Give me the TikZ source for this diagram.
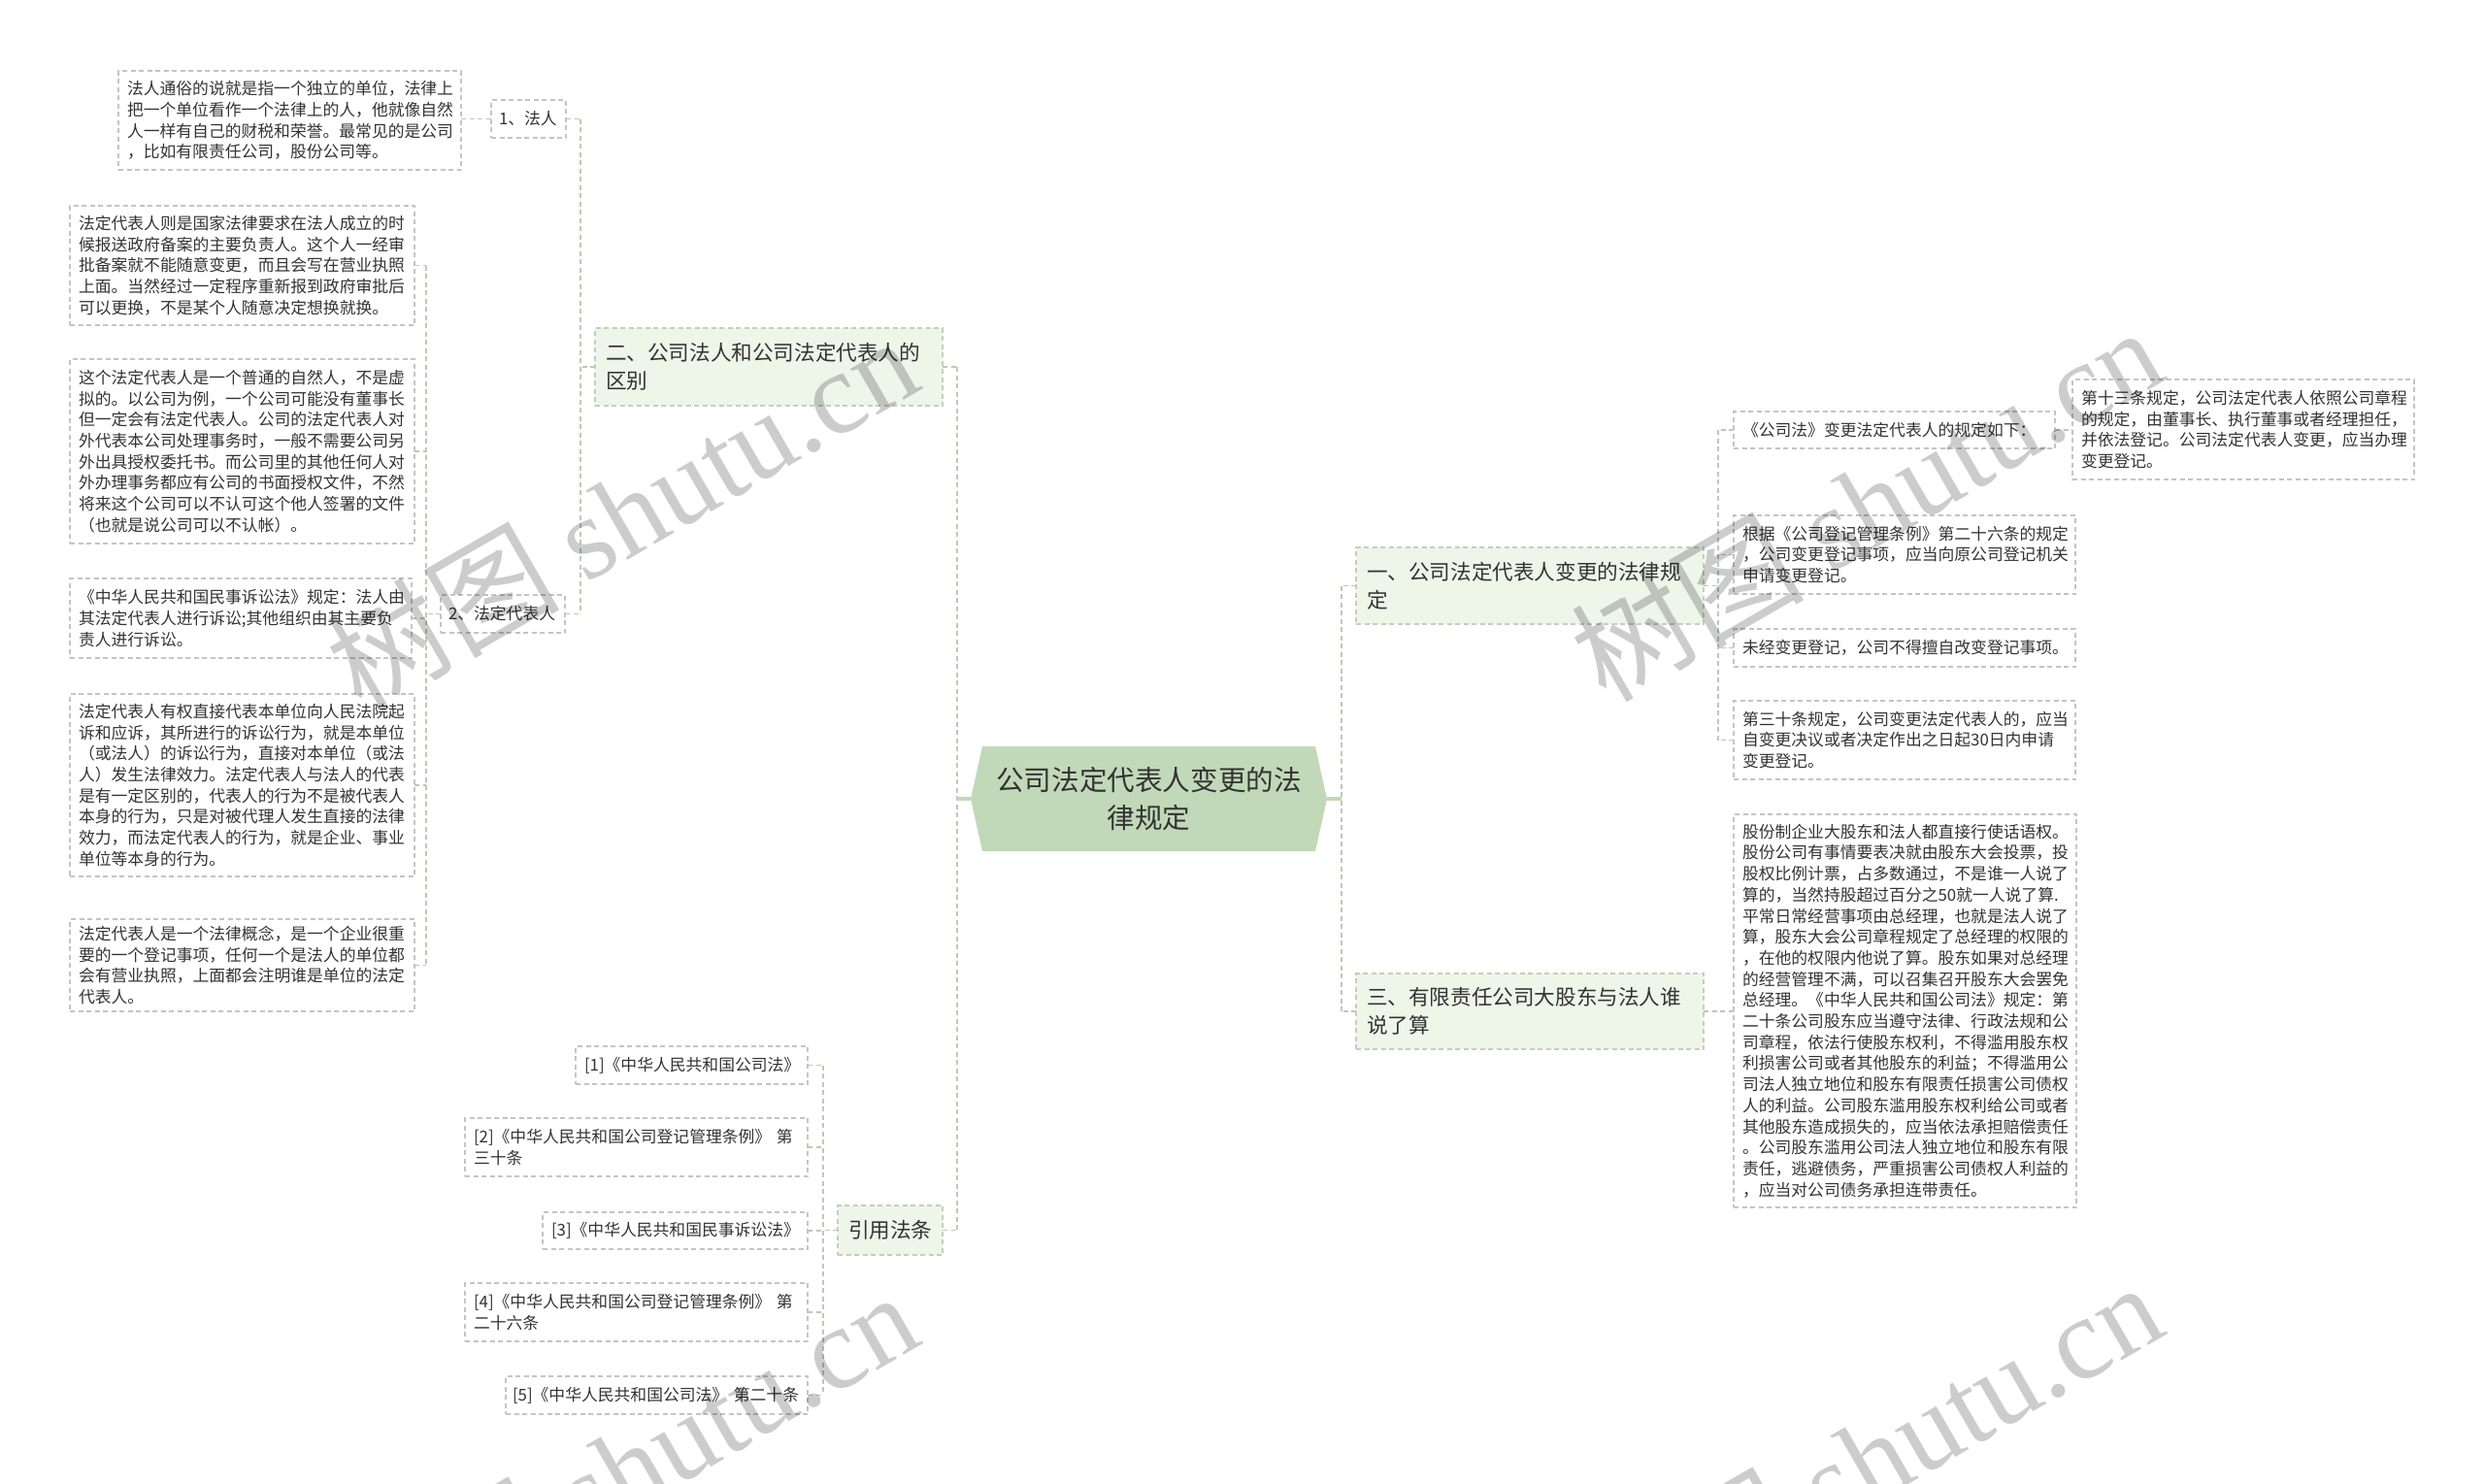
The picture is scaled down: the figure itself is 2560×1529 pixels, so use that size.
\documentclass[tikz,border=0pt]{standalone}
\usepackage{fontspec}
\setmainfont{Noto Sans CJK SC}
\newfontfamily\wmserif{Liberation Serif}
\hfuzz=30pt
\definecolor{leafborder}{HTML}{C4C4C4}
\definecolor{connc}{HTML}{BCCAB2}
\definecolor{lonefill}{HTML}{EEF5E9}
\definecolor{loneborder}{HTML}{C3CFBB}
\definecolor{cfill}{HTML}{C1D9B8}
\definecolor{txt}{HTML}{333333}
\tikzset{
  leaf/.style={draw=leafborder, dash pattern=on 5pt off 3.5pt, line width=1.2pt,
    font=\fontsize{16.8}{21.7}\selectfont, text=txt, align=left,
    inner xsep=9pt, inner ysep=0pt, anchor=north west, outer sep=0pt},
  lvone/.style={draw=loneborder, fill=lonefill, dash pattern=on 5pt off 3.5pt, line width=1.2pt,
    font=\fontsize{21.6}{29}\selectfont, text=txt, align=left,
    inner xsep=11pt, inner ysep=0pt, anchor=north west, outer sep=0pt},
  conn/.style={draw=connc, line width=1.3pt, dash pattern=on 5pt off 3.5pt},
  cstub/.style={draw=cfill, line width=3.5pt},
  wmark/.style={text=black, text opacity=0.2, font=\fontsize{120}{120}\selectfont, rotate=30, inner sep=0pt}
}
\begin{document}
\begin{tikzpicture}[x=1pt,y=-1pt]
\useasboundingbox (0,0) rectangle (2560,1529);
\fill[white] (0,0) rectangle (2560,1529);

% ---------- left branch: 二 ----------
\node[leaf, minimum width=353pt, minimum height=102pt, text width=335pt] (A) at (122,73)
 {法人通俗的说就是指一个独立的单位，法律上\\把一个单位看作一个法律上的人，他就像自然\\人一样有自己的财税和荣誉。最常见的是公司\\，比如有限责任公司，股份公司等。};
\node[leaf, minimum width=77pt, minimum height=39pt, text width=61pt, inner xsep=8pt] (n1) at (506,103) {1、法人};

\node[leaf, minimum width=355pt, minimum height=123pt, text width=337pt] (B) at (72,212)
 {法定代表人则是国家法律要求在法人成立的时\\候报送政府备案的主要负责人。这个人一经审\\批备案就不能随意变更，而且会写在营业执照\\上面。当然经过一定程序重新报到政府审批后\\可以更换，不是某个人随意决定想换就换。};
\node[leaf, minimum width=355pt, minimum height=190pt, text width=337pt] (C) at (72,370)
 {这个法定代表人是一个普通的自然人，不是虚\\拟的。以公司为例，一个公司可能没有董事长\\但一定会有法定代表人。公司的法定代表人对\\外代表本公司处理事务时，一般不需要公司另\\外出具授权委托书。而公司里的其他任何人对\\外办理事务都应有公司的书面授权文件，不然\\将来这个公司可以不认可这个他人签署的文件\\（也就是说公司可以不认帐）。};
\node[leaf, minimum width=352pt, minimum height=82pt, text width=334pt] (D) at (72,596)
 {《中华人民共和国民事诉讼法》规定：法人由\\其法定代表人进行诉讼;其他组织由其主要负\\责人进行诉讼。};
\node[leaf, minimum width=355pt, minimum height=188pt, text width=337pt] (E) at (72,715)
 {法定代表人有权直接代表本单位向人民法院起\\诉和应诉，其所进行的诉讼行为，就是本单位\\（或法人）的诉讼行为，直接对本单位（或法\\人）发生法律效力。法定代表人与法人的代表\\是有一定区别的，代表人的行为不是被代表人\\本身的行为，只是对被代理人发生直接的法律\\效力，而法定代表人的行为，就是企业、事业\\单位等本身的行为。};
\node[leaf, minimum width=355pt, minimum height=95pt, text width=337pt] (F) at (72,947)
 {法定代表人是一个法律概念，是一个企业很重\\要的一个登记事项，任何一个是法人的单位都\\会有营业执照，上面都会注明谁是单位的法定\\代表人。};
\node[leaf, minimum width=128pt, minimum height=39pt, text width=112pt, inner xsep=8pt] (n2) at (454,613) {2、法定代表人};

\node[lvone, minimum width=358pt, minimum height=80pt, text width=336pt] (L2) at (613,338)
 {二、公司法人和公司法定代表人的\\区别};

% ---------- references ----------
\node[leaf, minimum width=239pt, minimum height=39pt, text width=221pt] (r1) at (593,1078) {[1]《中华人民共和国公司法》};
\node[leaf, minimum width=353pt, minimum height=60pt, text width=335pt] (r2) at (479,1152) {[2]《中华人民共和国公司登记管理条例》 第\\三十条};
\node[leaf, minimum width=273pt, minimum height=38pt, text width=255pt] (r3) at (559,1249) {[3]《中华人民共和国民事诉讼法》};
\node[leaf, minimum width=353pt, minimum height=60pt, text width=335pt] (r4) at (479,1322) {[4]《中华人民共和国公司登记管理条例》 第\\二十六条};
\node[leaf, minimum width=311pt, minimum height=39pt, text width=297pt, inner xsep=7pt] (r5) at (521,1418) {[5]《中华人民共和国公司法》~第二十条};
\node[lvone, minimum width=108pt, minimum height=51pt, text width=86pt] (rf) at (863,1242) {引用法条};

% ---------- center ----------
\fill[cfill] (1000,823) -- (1012,769) -- (1355,769) -- (1367,823) -- (1355,877) -- (1012,877) -- cycle;
\node[minimum width=367pt, minimum height=108pt, inner sep=0pt, outer sep=0pt, align=center,
  font=\fontsize{28.6}{39}\selectfont, text=txt] (c) at (1183.5,823) {公司法定代表人变更的法\\律规定};

% ---------- right branch ----------
\node[lvone, minimum width=358pt, minimum height=79pt, text width=336pt] (L1) at (1397,564)
 {一、公司法定代表人变更的法律规\\定};
\node[lvone, minimum width=358pt, minimum height=78pt, text width=336pt] (L3) at (1397,1003)
 {三、有限责任公司大股东与法人谁\\说了算};

\node[leaf, minimum width=331pt, minimum height=38pt, text width=313pt] (R1) at (1786,424) {《公司法》变更法定代表人的规定如下：};
\node[leaf, minimum width=352pt, minimum height=103pt, text width=334pt] (R1a) at (2135,391)
 {第十三条规定，公司法定代表人依照公司章程\\的规定，由董事长、执行董事或者经理担任，\\并依法登记。公司法定代表人变更，应当办理\\变更登记。};
\node[leaf, minimum width=352pt, minimum height=81pt, text width=334pt] (R2) at (1786,531)
 {根据《公司登记管理条例》第二十六条的规定\\，公司变更登记事项，应当向原公司登记机关\\申请变更登记。};
\node[leaf, minimum width=352pt, minimum height=39pt, text width=334pt] (R3) at (1786,648)
 {未经变更登记，公司不得擅自改变登记事项。};
\node[leaf, minimum width=352pt, minimum height=81pt, text width=334pt] (R4) at (1786,722)
 {第三十条规定，公司变更法定代表人的，应当\\自变更决议或者决定作出之日起30日内申请\\变更登记。};
\node[leaf, minimum width=353pt, minimum height=405pt, text width=335pt] (R5) at (1786,839)
 {股份制企业大股东和法人都直接行使话语权。\\股份公司有事情要表决就由股东大会投票，投\\股权比例计票，占多数通过，不是谁一人说了\\算的，当然持股超过百分之50就一人说了算.\\平常日常经营事项由总经理，也就是法人说了\\算，股东大会公司章程规定了总经理的权限的\\，在他的权限内他说了算。股东如果对总经理\\的经营管理不满，可以召集召开股东大会罢免\\总经理。《中华人民共和国公司法》规定：第\\二十条公司股东应当遵守法律、行政法规和公\\司章程，依法行使股东权利，不得滥用股东权\\利损害公司或者其他股东的利益；不得滥用公\\司法人独立地位和股东有限责任损害公司债权\\人的利益。公司股东滥用股东权利给公司或者\\其他股东造成损失的，应当依法承担赔偿责任\\。公司股东滥用公司法人独立地位和股东有限\\责任，逃避债务，严重损害公司债权人利益的\\，应当对公司债务承担连带责任。};

% ---------- junction coordinates ----------
\coordinate (vA) at (598,0);
\coordinate (vB) at (439,0);
\coordinate (vM) at (986,0);
\coordinate (vR) at (848,0);
\coordinate (vN) at (1382,0);
\coordinate (vO) at (1770,0);

% ---------- connectors ----------
\draw[conn] (A.east |- n1.west) -- (n1.west);
\draw[conn] (n1.east) -- (n1.east -| vA);
\draw[conn] (n2.east) -- (n2.east -| vA);
\draw[conn] (n1.east -| vA) -- (n2.east -| vA);
\draw[conn] (L2.west) -- (L2.west -| vA);
\foreach \n in {B,C,D,E,F} \draw[conn] (\n.east) -- (\n.east -| vB);
\draw[conn] (B.east -| vB) -- (F.east -| vB);
\draw[conn] (n2.west) -- (n2.west -| vB);
\foreach \n in {r1,r2,r3,r4,r5} \draw[conn] (\n.east) -- (\n.east -| vR);
\draw[conn] (r1.east -| vR) -- (r5.east -| vR);
\draw[conn] (rf.west) -- (rf.west -| vR);
\draw[conn] (L2.east) -- (L2.east -| vM);
\draw[conn] (rf.east) -- (rf.east -| vM);
\draw[conn] (L2.east -| vM) -- (rf.east -| vM);
\draw[cstub] (c.west) -- (c.west -| vM);
\draw[cstub] (c.east) -- (c.east -| vN);
\draw[conn] (L1.west) -- (L1.west -| vN);
\draw[conn] (L3.west) -- (L3.west -| vN);
\draw[conn] (L1.west -| vN) -- (L3.west -| vN);
\draw[conn] (L1.east) -- (L1.east -| vO);
\foreach \n in {R1,R2,R3,R4} \draw[conn] (\n.west) -- (\n.west -| vO);
\draw[conn] (R1.west -| vO) -- (R4.west -| vO);
\draw[conn] (R1.east) -- (R1.east -| R1a.west);
\draw[conn] (L3.east) -- (L3.east -| R5.west);

% ---------- watermarks ----------
\begin{scope}
\clip (0,0) rectangle (2560,1529);
\node[wmark] (w1) at (640,528) {树图 {\wmserif shutu.cn}};
\node[wmark] (w2) at (1922,518) {树图 {\wmserif shutu.cn}};
\node[wmark] (w3) at (640,1512) {树图 {\wmserif shutu.cn}};
\node[wmark] (w4) at (1922,1502) {树图 {\wmserif shutu.cn}};
\end{scope}
\end{tikzpicture}
\end{document}
